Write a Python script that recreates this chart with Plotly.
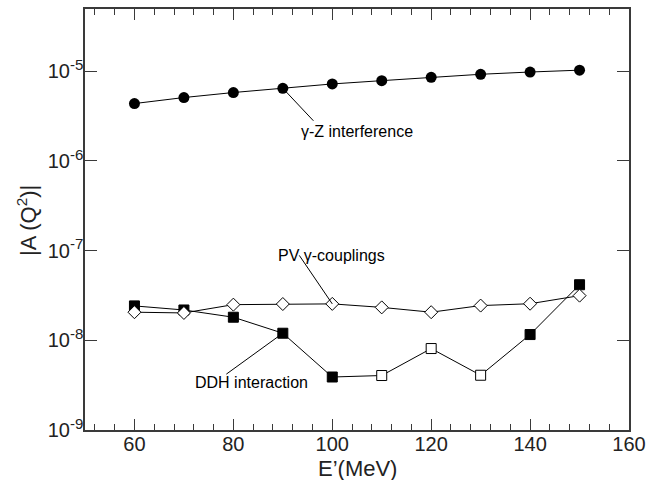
import plotly.graph_objects as go
import math

energy = [60, 70, 80, 90, 100, 110, 120, 130, 140, 150]
gz_interference = [4.37e-6, 5.1e-6, 5.8e-6, 6.47e-6, 7.23e-6, 7.87e-6, 8.57e-6, 9.27e-6, 9.82e-6, 1.03e-5]
pv_couplings = [2.06e-8, 2.02e-8, 2.5e-8, 2.54e-8, 2.55e-8, 2.33e-8, 2.06e-8, 2.44e-8, 2.56e-8, 3.15e-8]
ddh_interaction = [2.42e-8, 2.18e-8, 1.81e-8, 1.2e-8, 3.9e-9, 4.05e-9, 8.1e-9, 4.08e-9, 1.16e-8, 4.17e-8]
ddh_open = [False, False, False, False, False, True, True, True, False, False]

y_tickvals = [1e-9, 1e-8, 1e-7, 1e-6, 1e-5]
y_exponents = ["-9", "-8", "-7", "-6", "-5"]
x_tickvals = [60, 80, 100, 120, 140, 160]

FONT = "Liberation Sans, Arial, sans-serif"
AXC = "#3a3a3a"
TXT = "#222222"

y_ticktext = ['10<sup><span style="font-size:15px">%s</span></sup>' % e for e in y_exponents]

W, H = 647, 480
ML, MR, MT, MB = 85, 18, 9, 50
PW, PH = W - ML - MR, H - MT - MB

fig = go.Figure()

fig.add_trace(go.Scatter(
    x=energy, y=gz_interference, mode="lines+markers",
    line=dict(color="black", width=1),
    marker=dict(symbol="circle", size=11, color="black"),
    showlegend=False))

fig.add_trace(go.Scatter(
    x=energy, y=ddh_interaction, mode="lines+markers",
    line=dict(color="black", width=1),
    marker=dict(symbol="square", size=10,
                color=["white" if o else "black" for o in ddh_open],
                line=dict(color="black", width=1)),
    showlegend=False))

fig.add_trace(go.Scatter(
    x=energy, y=pv_couplings, mode="lines+markers",
    line=dict(color="black", width=1),
    marker=dict(symbol="diamond", size=10, color="white",
                line=dict(color="black", width=1)),
    showlegend=False))

# leader lines (empty-text annotations)
def leader(xv, yv, ax, ay):
    fig.add_annotation(x=xv, y=math.log10(yv), text="", showarrow=True,
                       arrowhead=0, arrowwidth=1, arrowcolor="black",
                       ax=ax, ay=ay, standoff=0, startstandoff=0)

leader(energy[3], gz_interference[3], 32, 34)
leader(energy[4], pv_couplings[4], -34, -50)
leader(energy[3], ddh_interaction[3], -58, 42)

def label(txt, xv, logy):
    fig.add_annotation(x=xv, y=logy, text=txt, showarrow=False,
                       xanchor="left", yanchor="middle",
                       font=dict(family=FONT, size=16, color="black"))

label("γ-Z interference", 93.2, -5.668)
label("PV γ-couplings", 88.6, -7.055)
label("DDH interaction", 71.9, -8.468)

# axis titles (paper coordinates relative to plot area)
fig.add_annotation(xref="paper", yref="paper", x=(357 - 85) / PW, y=-(468 - 430) / PH,
                   text="E’(MeV)", showarrow=False, xanchor="center", yanchor="middle",
                   font=dict(family=FONT, size=22, color=TXT))
fig.add_annotation(xref="paper", yref="paper", x=-(85 - 27) / PW, y=(430 - 221) / PH,
                   text="|A (Q<sup>2</sup>)|", showarrow=False, textangle=-90,
                   xanchor="center", yanchor="middle",
                   font=dict(family=FONT, size=22, color=TXT))

fig.update_xaxes(
    range=[50, 160], tickvals=x_tickvals, ticks="inside", ticklen=11,
    tickcolor=AXC, tickwidth=1.2, automargin=False, ticklabelstandoff=-5,
    minor=dict(dtick=4, tick0=0, ticks="inside", ticklen=6, tickcolor=AXC, tickwidth=1.2, showgrid=False),
    showline=True, linecolor=AXC, linewidth=1.5, mirror="ticks",
    showgrid=False, zeroline=False,
    tickfont=dict(family=FONT, size=20, color=TXT))

fig.update_yaxes(
    type="log", range=[-9, -4.305], tickvals=y_tickvals, ticktext=y_ticktext,
    ticks="inside", ticklen=12, tickcolor=AXC, tickwidth=1.2, automargin=False,
    ticklabelstandoff=-4,
    showline=True, linecolor=AXC, linewidth=1.5, mirror="ticks",
    showgrid=False, zeroline=False,
    tickfont=dict(family=FONT, size=20, color=TXT))

fig.update_layout(
    width=W, height=H,
    margin=dict(l=ML, r=MR, t=MT, b=MB),
    paper_bgcolor="white", plot_bgcolor="white",
    showlegend=False)

fig.write_html(
    "out.html",
    config={"displayModeBar": False},
    post_script="document.body.style.margin='0';document.body.style.overflow='hidden';")
